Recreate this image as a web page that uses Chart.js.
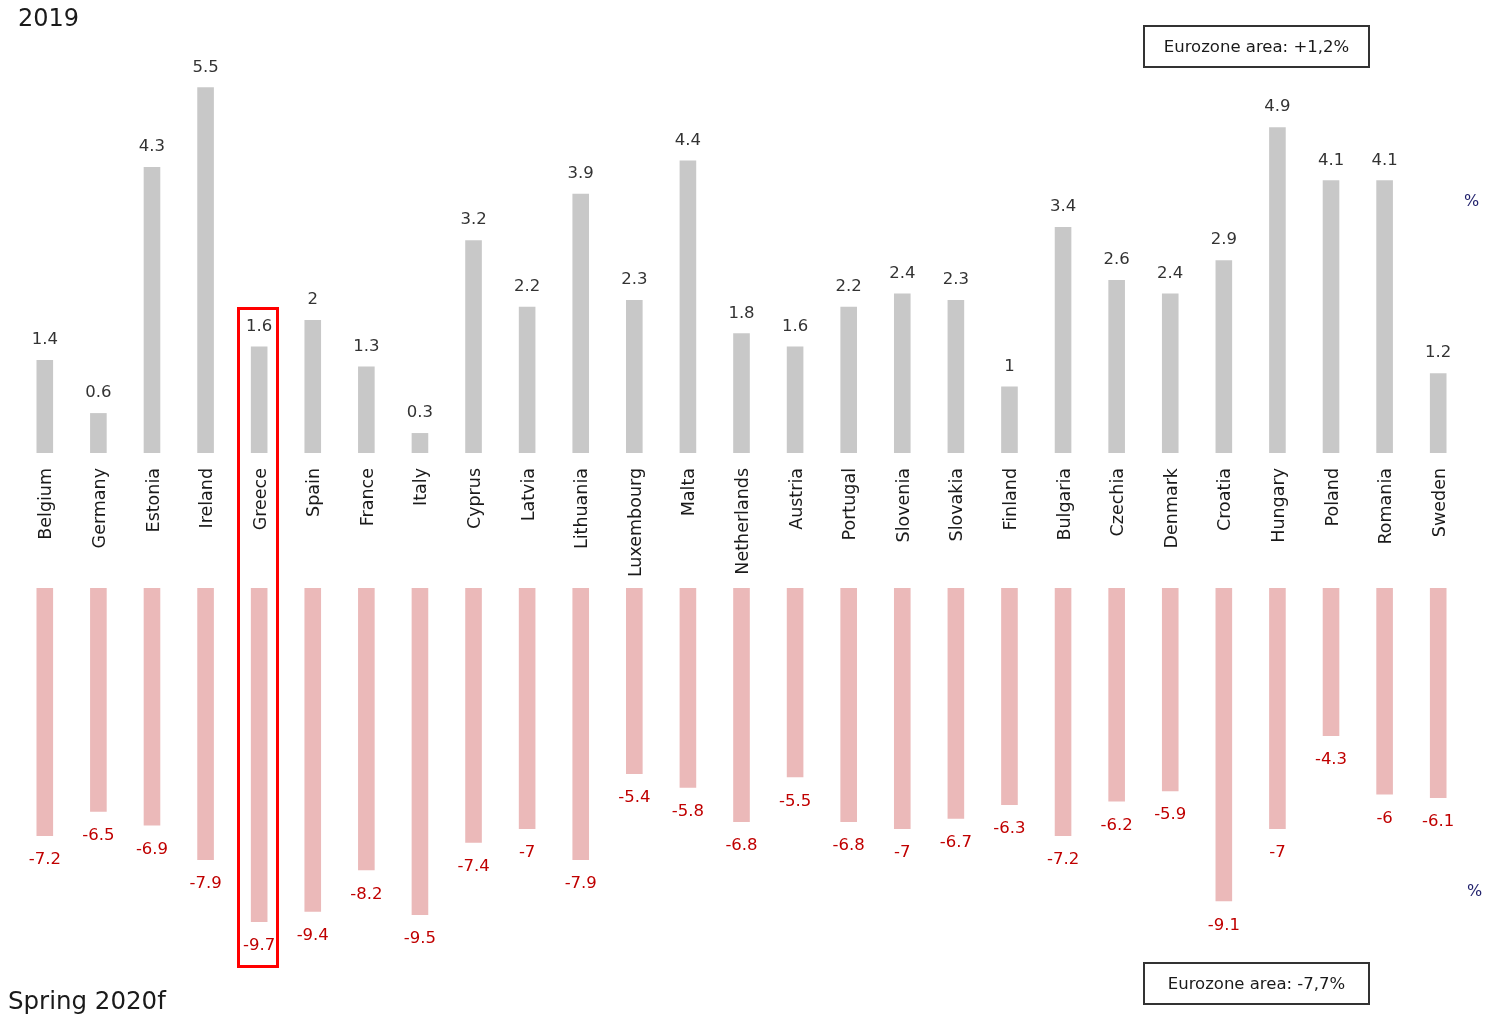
<!DOCTYPE html>
<html>
<head>
<meta charset="utf-8">
<script src="https://cdn.jsdelivr.net/npm/chart.js@4/dist/chart.umd.min.js"></script>
<style>
  body { margin:0; background:#fff; font-family:"DejaVu Sans", Verdana, sans-serif; }
  #wrap { position:relative; width:1501px; height:1018px; overflow:hidden; }
  canvas { position:absolute; left:0; }
  .txt { position:absolute; white-space:nowrap; color:#1a1a1a; }
  .box { position:absolute; border:2px solid #333; box-sizing:border-box; font-size:16.5px;
         display:flex; align-items:center; justify-content:center; color:#1a1a1a; }
  .pct { position:absolute; font-size:16px; color:#1f1f6b; }
</style>
</head>
<body>
<div id="wrap">
  <canvas id="top" width="1501" height="590" style="top:0"></canvas>
  <canvas id="bottom" width="1501" height="430" style="top:588px"></canvas>
  <div class="txt" style="left:18px; top:4px; font-size:24px;">2019</div>
  <div class="txt" style="left:8px; top:986px; font-size:24.5px;">Spring 2020f</div>
  <div class="box" style="left:1143px; top:25px; width:227px; height:43px;">Eurozone area: +1,2%</div>
  <div class="box" style="left:1143px; top:962px; width:227px; height:43px;">Eurozone area: -7,7%</div>
  <div class="pct" style="left:1464px; top:191px;">%</div>
  <div class="pct" style="left:1467px; top:881px;">%</div>
  <div style="position:absolute; left:237px; top:307px; width:42px; height:661px; border:3px solid #ff0000; box-sizing:border-box;"></div>
</div>
<script>
const countries = ['Belgium','Germany','Estonia','Ireland','Greece','Spain','France','Italy','Cyprus','Latvia',
  'Lithuania','Luxembourg','Malta','Netherlands','Austria','Portugal','Slovenia','Slovakia','Finland','Bulgaria',
  'Czechia','Denmark','Croatia','Hungary','Poland','Romania','Sweden'];
const growth2019 = [1.4,0.6,4.3,5.5,1.6,2,1.3,0.3,3.2,2.2,3.9,2.3,4.4,1.8,1.6,2.2,2.4,2.3,1,3.4,2.6,2.4,2.9,4.9,4.1,4.1,1.2];
const spring2020f = [-7.2,-6.5,-6.9,-7.9,-9.7,-9.4,-8.2,-9.5,-7.4,-7,-7.9,-5.4,-5.8,-6.8,-5.5,-6.8,-7,-6.7,-6.3,-7.2,-6.2,-5.9,-9.1,-7,-4.3,-6,-6.1];

const FONT = '"DejaVu Sans", Verdana, sans-serif';

// value labels above / below each bar
const valueLabels = {
  id: 'valueLabels',
  afterDatasetsDraw(chart, args, opts) {
    const ctx = chart.ctx;
    const ds = chart.data.datasets[0];
    ctx.save();
    ctx.font = '16.5px ' + FONT;
    ctx.fillStyle = opts.color;
    ctx.textAlign = 'center';
    ctx.textBaseline = 'middle';
    chart.getDatasetMeta(0).data.forEach((bar, i) => {
      const v = ds.data[i];
      const y = v >= 0 ? bar.y - 20 : bar.y + 24;
      ctx.fillText(String(v), bar.x, y);
    });
    ctx.restore();
  }
};

new Chart(document.getElementById('top'), {
  type: 'bar',
  data: {
    labels: countries,
    datasets: [{ data: growth2019, backgroundColor: '#c8c8c8', barPercentage: 0.31, categoryPercentage: 1 }]
  },
  options: {
    responsive: false,
    animation: false,
    layout: { padding: { top: 40, left: 18, right: 36, bottom: 0 } },
    plugins: { legend: { display: false }, tooltip: { enabled: false }, valueLabels: { color: '#333333' } },
    scales: {
      x: {
        grid: { display: false, drawTicks: false },
        border: { display: false },
        ticks: { minRotation: 90, maxRotation: 90, padding: 15, labelOffset: 2, color: '#1a1a1a', font: { size: 17.5, family: FONT } },
        afterFit: (s) => { s.height = 137; }
      },
      y: { display: false, min: 0, max: (453 - 40) / 66.5 }
    }
  },
  plugins: [valueLabels]
});

new Chart(document.getElementById('bottom'), {
  type: 'bar',
  data: {
    labels: countries,
    datasets: [{ data: spring2020f, backgroundColor: '#ebb9b9', barPercentage: 0.31, categoryPercentage: 1 }]
  },
  options: {
    responsive: false,
    animation: false,
    layout: { padding: { top: 0, left: 18, right: 36, bottom: 0 } },
    plugins: { legend: { display: false }, tooltip: { enabled: false }, valueLabels: { color: '#c00000' } },
    scales: {
      x: { display: false },
      y: { display: false, min: -430 / 34.43, max: 0 }
    }
  },
  plugins: [valueLabels]
});
</script>
</body>
</html>
